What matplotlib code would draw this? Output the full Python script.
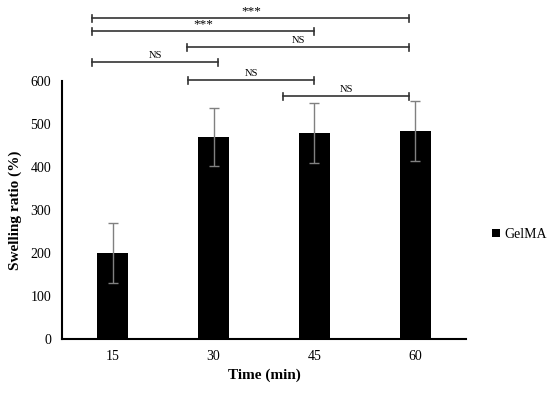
import numpy as np
import matplotlib.pyplot as plt

times = ['15', '30', '45', '60']
swelling = [200, 470, 480, 483]
errors = [70, 68, 70, 70]

# significance brackets: (x start, x end, height, label)
bracket_x0 = [-0.2, -0.2, 0.74, -0.2, 0.75, 1.69]
bracket_x1 = [2.94, 2.0, 2.94, 1.04, 2.0, 2.94]
bracket_y = [746, 716, 679, 644, 602, 565]
bracket_lbl = ['***', '***', 'NS', 'NS', 'NS', 'NS']

plt.rcParams['font.family'] = 'Liberation Serif'

fig = plt.figure(figsize=(5.5, 3.94), dpi=100)
ax = fig.add_axes([0.113, 0.14, 0.734, 0.654])

x = np.arange(len(times))
ax.bar(x, swelling, width=0.3, color='black', label='GelMA', zorder=2)
ax.errorbar(x, swelling, yerr=errors, fmt='none', ecolor='#808080',
            elinewidth=1, capsize=3.5, capthick=1, zorder=3)

for x0, x1, y, lbl in zip(bracket_x0, bracket_x1, bracket_y, bracket_lbl):
    ax.plot([x0, x1], [y, y], color='#333333', lw=1.2, clip_on=False)
    for xe in (x0, x1):
        ax.plot([xe, xe], [y - 8, y + 8], color='#333333', lw=1.2, clip_on=False)
    if lbl == '***':
        ax.text((x0 + x1) / 2, y + 3, lbl, ha='center', va='bottom',
                fontsize=9.5, clip_on=False)
    else:
        ax.text((x0 + x1) / 2, y + 6, lbl, ha='center', va='bottom',
                fontsize=7.5, clip_on=False)

ax.set_xlim(-0.5, 3.5)
ax.set_ylim(0, 600)
ax.set_yticks(range(0, 601, 100))
ax.set_xticks(x)
ax.set_xticklabels(times)
ax.tick_params(axis='both', length=0, labelsize=10, pad=8)
ax.spines['top'].set_visible(False)
ax.spines['right'].set_visible(False)
ax.spines['left'].set_linewidth(1.5)
ax.spines['bottom'].set_linewidth(1.5)
ax.set_ylabel('Swelling ratio (%)', fontsize=11, fontweight='bold', labelpad=6)
ax.set_xlabel('Time (min)', fontsize=11, fontweight='bold', labelpad=4)

ax.legend(loc='center left', bbox_to_anchor=(1.035, 0.405), frameon=False,
          fontsize=10, handlelength=0.55, handleheight=0.55, handletextpad=0.3)

plt.savefig('out.png', dpi=100)
